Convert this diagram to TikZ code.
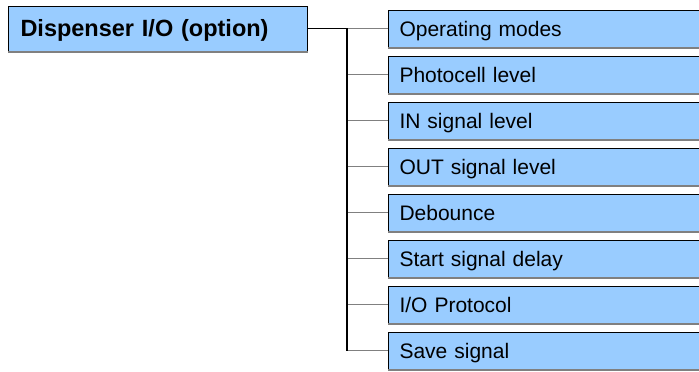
\documentclass[tikz,border=0pt]{standalone}
\usepackage{fontspec}
\setmainfont{Liberation Sans}
\definecolor{boxblue}{HTML}{99CCFF}
\definecolor{linegray}{HTML}{808080}
\tikzset{
    rootbox/.style={draw=black, line width=1pt, fill=boxblue, anchor=west,
        minimum width=299pt, minimum height=45pt, inner xsep=12pt, inner ysep=0pt,
        text width=275pt, text height=18pt, text depth=3pt, align=left,
        font=\fontsize{23.5}{28}\selectfont\bfseries},
    itembox/.style={draw=black, line width=1pt, fill=boxblue, anchor=west,
        minimum width=340pt, minimum height=37pt, inner xsep=11pt, inner ysep=0pt,
        text width=318pt, text height=17pt, text depth=2pt, align=left,
        font=\fontsize{21}{25}\selectfont},
    shade/.style={draw=linegray, line width=2pt},
    trunk/.style={draw=black, line width=1.4pt},
    branch/.style={draw=linegray, line width=1.2pt}
}
\begin{document}
\begin{tikzpicture}[x=1pt, y=-1pt]
    \clip (0,0) rectangle (699,372);
    \node[rootbox] (root) at (8, 28.5) {Dispenser I/O (option)};
    \draw[shade] (root.south west) -- (root.south east);
    \node[itembox] (m1) at (388, 28.5)  {Operating modes};
    \node[itembox] (m2) at (388, 74.5)  {Photocell level};
    \node[itembox] (m3) at (388, 120.5) {IN signal level};
    \node[itembox] (m4) at (388, 166.5) {OUT signal level};
    \node[itembox] (m5) at (388, 212.5) {Debounce};
    \node[itembox] (m6) at (388, 258.5) {Start signal delay};
    \node[itembox] (m7) at (388, 304.5) {I/O Protocol};
    \node[itembox] (m8) at (388, 350.5) {Save signal};
    \foreach \m in {m1,m2,m3,m4,m5,m6,m7,m8}
        \draw[shade] (\m.south west) -- (\m.south east);
    % tree lines
    \coordinate (top) at (347, 28.5);
    \coordinate (bot) at (347, 350.5);
    \foreach \m in {m1,m2,m3,m4,m5,m6,m7,m8}
        \draw[branch] (\m.west) -- (\m.west -| top);
    \draw[trunk] (root.east) -- (top) -- (bot);
\end{tikzpicture}
\end{document}
